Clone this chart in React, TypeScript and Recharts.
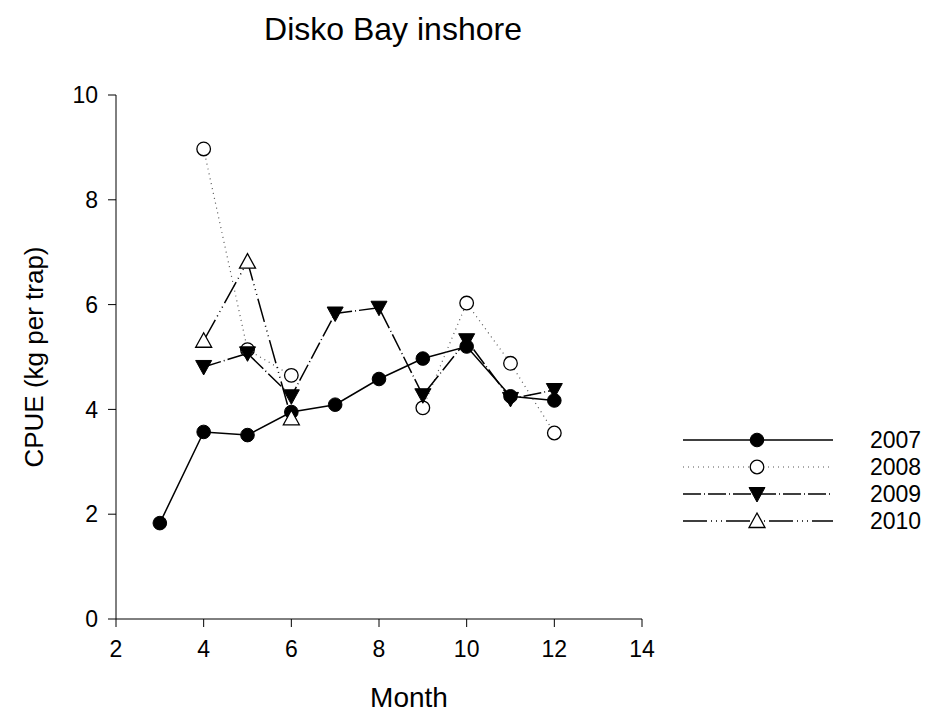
import React from 'react';
import { LineChart, Line, XAxis, YAxis, Legend } from 'recharts';

const months = [3, 4, 5, 6, 7, 8, 9, 10, 11, 12];
const cpue2007 = [1.83, 3.57, 3.51, 3.95, 4.09, 4.58, 4.97, 5.2, 4.25, 4.17];
const cpue2008 = [null, 8.97, 5.14, 4.65, null, null, 4.03, 6.03, 4.88, 3.55];
const cpue2009 = [null, 4.81, 5.07, 4.25, 5.83, 5.94, 4.27, 5.32, 4.2, 4.37];
const cpue2010 = [null, 5.31, 6.82, 3.83, null, null, null, null, null, null];
const yearLabels = ['2007', '2008', '2009', '2010'];
const xTicks = [2, 4, 6, 8, 10, 12, 14];
const yTicks = [0, 2, 4, 6, 8, 10];

const data = months.map((m, i) => ({
  month: m,
  y2007: cpue2007[i],
  y2008: cpue2008[i],
  y2009: cpue2009[i],
  y2010: cpue2010[i],
}));

const FONT = '"Liberation Sans", Arial, Helvetica, sans-serif';

type Kind = 'filledCircle' | 'openCircle' | 'downTri' | 'upTri';

const series: { key: string; name: string; dash?: string; width: number; color: string; marker: Kind }[] = [
  { key: 'y2007', name: yearLabels[0], width: 1.5, color: '#000', marker: 'filledCircle' },
  { key: 'y2008', name: yearLabels[1], dash: '1 4', width: 1.2, color: '#555', marker: 'openCircle' },
  { key: 'y2009', name: yearLabels[2], dash: '18 3 1 3', width: 1.5, color: '#000', marker: 'downTri' },
  { key: 'y2010', name: yearLabels[3], dash: '24 4 1 4 1 4 1 4', width: 1.5, color: '#000', marker: 'upTri' },
];

function markerShape(kind: Kind, cx: number, cy: number, key?: string) {
  switch (kind) {
    case 'filledCircle':
      return <circle key={key} cx={cx} cy={cy} r={6.8} fill="#000" stroke="#000" strokeWidth={1} />;
    case 'openCircle':
      return <circle key={key} cx={cx} cy={cy} r={6.8} fill="#fff" stroke="#000" strokeWidth={1.3} />;
    case 'downTri':
      return (
        <polygon
          key={key}
          points={`${cx - 8},${cy - 6.5} ${cx + 8},${cy - 6.5} ${cx},${cy + 8}`}
          fill="#000"
          stroke="#000"
          strokeWidth={1}
        />
      );
    case 'upTri':
      return (
        <polygon
          key={key}
          points={`${cx - 8},${cy + 6.5} ${cx + 8},${cy + 6.5} ${cx},${cy - 8}`}
          fill="#fff"
          stroke="#000"
          strokeWidth={1.3}
        />
      );
  }
}

const renderDot = (kind: Kind, skey: string) => (props: any) => {
  const { cx, cy, index, value } = props;
  const k = `${skey}-${index}`;
  if (cx == null || cy == null || value == null || (Array.isArray(value) && value[1] == null)) {
    return <g key={k} />;
  }
  return markerShape(kind, cx, cy, k);
};

const LegendContent = () => (
  <svg width={251} height={115} style={{ display: 'block' }}>
    {series.map((s, i) => {
      const y = 15 + i * 27;
      return (
        <g key={s.key}>
          <line x1={7} x2={157} y1={y} y2={y} stroke={s.color} strokeWidth={s.width} strokeDasharray={s.dash} />
          {markerShape(s.marker, 81, y)}
          <text x={194} y={y} dominantBaseline="central" fontFamily={FONT} fontSize={23} fill="#000">
            {s.name}
          </text>
        </g>
      );
    })}
  </svg>
);

export default function App() {
  return (
    <div style={{ position: 'absolute', left: 0, top: 0, width: 927, height: 725, background: '#fff' }}>
      <div
        style={{
          position: 'absolute',
          left: 393,
          top: 11,
          transform: 'translateX(-50%)',
          fontFamily: FONT,
          fontSize: 32,
          whiteSpace: 'nowrap',
          color: '#000',
        }}
      >
        Disko Bay inshore
      </div>
      <LineChart
        width={927}
        height={725}
        data={data}
        margin={{ top: 95, right: 285, bottom: 0, left: 0 }}
        style={{ position: 'absolute', left: 0, top: 0 }}
      >
        <XAxis
          type="number"
          dataKey="month"
          domain={[2, 14]}
          ticks={xTicks}
          interval={0}
          allowDataOverflow
          height={106}
          tickSize={8}
          tickMargin={14}
          stroke="#000"
          tickLine={{ stroke: '#000' }}
          axisLine={{ stroke: '#000' }}
          tick={{ fill: '#000', fontSize: 23, fontFamily: FONT }}
          label={{
            content: (p: any) => {
              const vb = p.viewBox || {};
              const cx = (vb.x ?? 116) + (vb.width ?? 526) / 2 + 30;
              return (
                <text x={cx} y={697} textAnchor="middle" dominantBaseline="central" fontFamily={FONT} fontSize={28} fill="#000">
                  Month
                </text>
              );
            },
          }}
        />
        <YAxis
          type="number"
          domain={[0, 10]}
          ticks={yTicks}
          interval={0}
          allowDataOverflow
          width={116}
          tickSize={8}
          tickMargin={10}
          stroke="#000"
          tickLine={{ stroke: '#000' }}
          axisLine={{ stroke: '#000' }}
          tick={{ fill: '#000', fontSize: 23, fontFamily: FONT }}
          label={{
            content: (p: any) => {
              const vb = p.viewBox || {};
              const cy = (vb.y ?? 95) + (vb.height ?? 524) / 2;
              const cx = 34;
              return (
                <text
                  x={cx}
                  y={cy}
                  transform={`rotate(-90 ${cx} ${cy})`}
                  textAnchor="middle"
                  dominantBaseline="central"
                  fontFamily={FONT}
                  fontSize={26}
                  fill="#000"
                >
                  CPUE (kg per trap)
                </text>
              );
            },
          }}
        />
        <Legend
          layout="vertical"
          verticalAlign="middle"
          align="center"
          wrapperStyle={{ position: 'absolute', left: 676, top: 425, width: 251 }}
          content={LegendContent}
        />
        {series.map((s) => (
          <Line
            key={s.key}
            type="linear"
            dataKey={s.key}
            name={s.name}
            stroke={s.color}
            strokeWidth={s.width}
            strokeDasharray={s.dash}
            connectNulls={false}
            isAnimationActive={false}
            dot={renderDot(s.marker, s.key)}
            activeDot={false}
            legendType="none"
          />
        ))}
      </LineChart>
    </div>
  );
}
